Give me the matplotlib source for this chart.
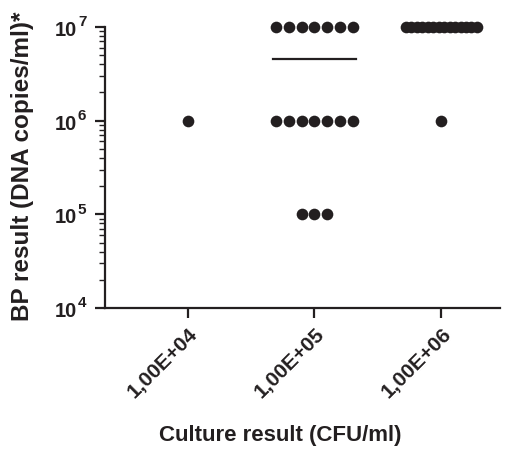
import matplotlib.pyplot as plt
from matplotlib.ticker import LogLocator, NullFormatter, FixedLocator
import numpy as np

plt.rcParams['font.family'] = ['Liberation Sans', 'DejaVu Sans']

categories = ['1,00E+04', '1,00E+05', '1,00E+06']
# values per group (value, count)
group_values = [
    [(1e6, 1)],
    [(1e7, 7), (1e6, 7), (1e5, 3)],
    [(1e7, 14), (1e6, 1)],
]
y_exponents = [4, 5, 6, 7]
dot_spacing = [0.1, 0.1, 0.043]
mean_groups = [1]  # mean line drawn for these

INK = '#231f20'

fig = plt.figure(figsize=(5.25, 4.49), dpi=100)
ax = fig.add_axes([0.2, 0.314, 0.752, 0.626])

for i, rows in enumerate(group_values):
    for val, n in rows:
        offs = (np.arange(n) - (n - 1) / 2) * dot_spacing[i]
        ax.plot(i + offs, [val] * n, 'o', color=INK, markersize=8.4,
                markeredgewidth=0, clip_on=False, zorder=3)

for i in mean_groups:
    allv = [v for v, n in group_values[i] for _ in range(n)]
    ax.plot([i - 0.33, i + 0.33], [np.mean(allv)] * 2, color=INK, lw=1.6)

ax.set_yscale('log')
ax.set_ylim(1e4, 1e7)
ax.set_xlim(-0.65, 2.46)
ax.yaxis.set_major_locator(FixedLocator([10.0 ** e for e in y_exponents]))
ax.yaxis.set_minor_locator(LogLocator(base=10, subs=np.arange(2, 10)))
ax.yaxis.set_minor_formatter(NullFormatter())
ax.set_yticklabels([''] * len(y_exponents))

# y tick labels: "10" plus a raised exponent
ytrans = ax.get_yaxis_transform()
for e in y_exponents:
    ax.annotate('10', xy=(0, 10.0 ** e), xycoords=ytrans,
                xytext=(-20, -2.5), textcoords='offset points', ha='right', va='center',
                fontsize=14.5, fontweight='bold', color=INK, annotation_clip=False)
    ax.annotate(str(e), xy=(0, 10.0 ** e), xycoords=ytrans,
                xytext=(-19.5, 0.5), textcoords='offset points', ha='left', va='baseline',
                fontsize=11, fontweight='bold', color=INK, annotation_clip=False)

ax.set_xticks(range(len(categories)))
ax.set_xticklabels(categories, rotation=45, ha='right', rotation_mode='anchor',
                   fontsize=15, fontweight='bold', color=INK)

for sp in ['top', 'right']:
    ax.spines[sp].set_visible(False)
for sp in ['left', 'bottom']:
    ax.spines[sp].set_linewidth(1.6)
    ax.spines[sp].set_color(INK)

ax.tick_params(axis='y', which='major', length=7, width=1.6, colors=INK)
ax.tick_params(axis='y', which='minor', length=4, width=1.0, colors=INK)
ax.tick_params(axis='x', length=7, width=1.6, colors=INK, pad=5)

fig.text(23 / 525, 1 - 166 / 449, 'BP result (DNA copies/ml)*', rotation=90,
         ha='center', va='center', fontsize=17.5, fontweight='bold', color=INK)
fig.text(280 / 525, 1 - 435 / 449, 'Culture result (CFU/ml)',
         ha='center', va='center', fontsize=16, fontweight='bold', color=INK)

fig.savefig('out.png', dpi=100)
